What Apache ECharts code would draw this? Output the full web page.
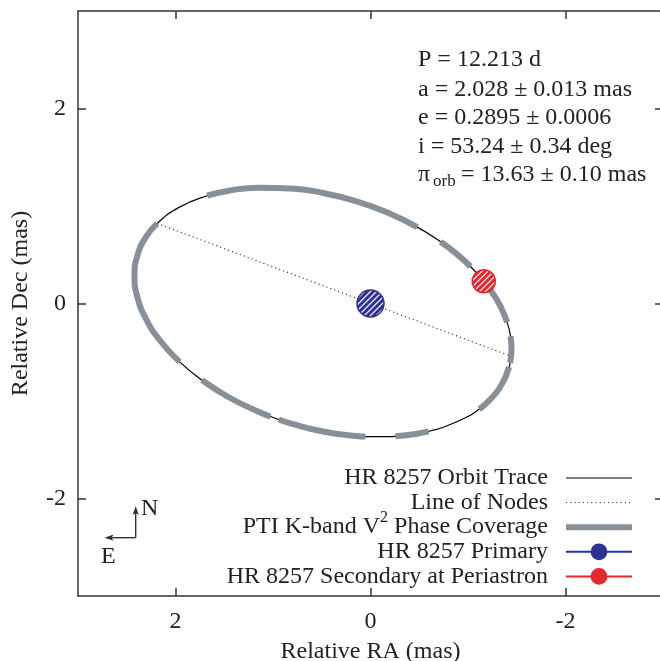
<!DOCTYPE html>
<html>
<head>
<meta charset="utf-8">
<script src="https://cdn.jsdelivr.net/npm/echarts@6/dist/echarts.min.js"></script>
<style>
html, body { margin:0; padding:0; background:#fff; }
#chart { width:660px; height:661px; }
</style>
</head>
<body>
<div id="chart"></div>
<script>
// orbit trace (Relative RA, Relative Dec in mas), once round
var orbitRA  = [-1.4461, -1.4317, -1.4223, -1.3295, -1.1871, -1.1156, -0.9938, -0.7555, -0.5967, -0.4795, -0.2558, -0.1740, 0.0523, 0.1515, 0.4872, 0.8229, 0.9418, 1.0266, 1.1484, 1.4539, 1.7273, 1.9573, 2.1615, 2.3039, 2.3911, 2.4205, 2.3911, 2.3039, 2.1878, 1.9682, 1.6748, 1.4539, 1.1484, 0.8229, 0.4872, 0.1515, -0.1740, -0.4795, -0.7189, -0.8799, -1.0258, -1.1871, -1.2308, -1.3295, -1.4017, -1.4359];
var orbitDec = [-0.4632, -0.6094, -0.6499, -0.8589, -1.0246, -1.0832, -1.1619, -1.2665, -1.3117, -1.3354, -1.3621, -1.3664, -1.3651, -1.3587, -1.3123, -1.2288, -1.1901, -1.1594, -1.1107, -0.9615, -0.7877, -0.5992, -0.3769, -0.1561, 0.0667, 0.2847, 0.4915, 0.6805, 0.8215, 0.9835, 1.1056, 1.1570, 1.1880, 1.1803, 1.1339, 1.0504, 0.9323, 0.7831, 0.6334, 0.5113, 0.3796, 0.1985, 0.1395, -0.0223, -0.1940, -0.3354];
// PTI phase coverage, as runs of points along the trace (wraps past the end)
var coverFrom = [30, 38, 42, 45, 2, 8, 12, 17, 21];
var coverTo   = [37, 40, 44, 47, 5, 10, 16, 20, 28];
var nodesRA  = [2.1878, -1.43];
var nodesDec = [0.8215, -0.537];
var primaryPos   = [0, 0];
var secondaryPos = [-1.162, 0.228];
var tickVals = [-2, 0, 2];
var fitLines = ['P = 12.213 d', 'a = 2.028 \u00b1 0.013 mas', 'e = 0.2895 \u00b1 0.0006', 'i = 53.24 \u00b1 0.34 deg'];
var parallaxText = '= 13.63 \u00b1 0.10 mas';

var FONT = 'Liberation Serif';
var INK = '#222';
var BLUE = '#2e3192', RED = '#e8262d', GREY = '#878f98';
var N_ORBIT = 'HR 8257 Orbit Trace', N_NODES = 'Line of Nodes',
    N_COVER = 'PTI K-band V2 Phase Coverage', N_PRIM = 'HR 8257 Primary',
    N_SEC = 'HR 8257 Secondary at Periastron';

// diagonal white hatching; symbols are drawn scaled from a unit circle,
// so the pattern is shrunk back by the symbol's half size
function hatch(base, symSize) {
  var t = 12, c = document.createElement('canvas');
  c.width = t; c.height = t;
  var g = c.getContext('2d');
  g.fillStyle = base; g.fillRect(0, 0, t, t);
  g.strokeStyle = 'rgba(255,255,255,0.95)'; g.lineWidth = 2.6;
  g.beginPath();
  g.moveTo(0, t); g.lineTo(t, 0);
  g.moveTo(-2, 2); g.lineTo(2, -2);
  g.moveTo(t - 2, t + 2); g.lineTo(t + 2, t - 2);
  g.stroke();
  var k = 6 / (t * symSize / 2);
  return { image: c, repeat: 'repeat', scaleX: k, scaleY: k };
}

var n = orbitRA.length;
var orbitPts = [[orbitRA[n - 1], orbitDec[n - 1]]];
for (var i = 0; i < n; i++) orbitPts.push([orbitRA[i], orbitDec[i]]);
orbitPts.push([orbitRA[0], orbitDec[0]], [orbitRA[1], orbitDec[1]]);

var series = [{
  name: N_ORBIT, type: 'line', data: orbitPts, smooth: true, symbol: 'none', z: 2, silent: true,
  lineStyle: { color: '#000', width: 1.2 }, itemStyle: { color: '#000' }
}, {
  name: N_NODES, type: 'line', symbol: 'none', z: 2, silent: true,
  data: nodesRA.map(function (x, k) { return [x, nodesDec[k]]; }),
  lineStyle: { color: '#333', width: 1.1, type: [1.2, 3] }, itemStyle: { color: '#333' }
}];
for (var k = 0; k < coverFrom.length; k++) {
  var pts = [];
  for (var j = coverFrom[k]; j <= coverTo[k]; j++) pts.push([orbitRA[j % n], orbitDec[j % n]]);
  series.push({
    name: N_COVER, type: 'line', data: pts, smooth: true, symbol: 'none', z: 3, silent: true,
    lineStyle: { color: GREY, width: 6, cap: 'butt' }, itemStyle: { color: GREY }
  });
}
series.push({
  name: N_PRIM, type: 'line', data: [primaryPos], symbol: 'circle', symbolSize: 27, z: 5, silent: true,
  lineStyle: { color: BLUE, width: 2 },
  itemStyle: { color: hatch(BLUE, 27), borderColor: BLUE, borderWidth: 1.5 }
}, {
  name: N_SEC, type: 'line', data: [secondaryPos], symbol: 'circle', symbolSize: 23, z: 5, silent: true,
  lineStyle: { color: RED, width: 2 },
  itemStyle: { color: hatch(RED, 23), borderColor: RED, borderWidth: 1.5 }
});

function axisBase(extra) {
  var a = {
    type: 'value', min: -3, max: 3,
    axisLine: { show: true, onZero: false, lineStyle: { color: '#333', width: 1.5 } },
    axisTick: { show: true, inside: true, length: 8, customValues: tickVals, lineStyle: { color: '#333', width: 1.5 } },
    axisLabel: { show: false },
    splitLine: { show: false }
  };
  for (var key in extra) a[key] = extra[key];
  return a;
}
var nameStyle = { fontFamily: FONT, fontSize: 24, color: INK };

// the superscript 2 of the legend: the legend keeps an invisible "2" for its width,
// the visible one is raised on top of it
var mctx = document.createElement('canvas').getContext('2d');
mctx.font = '24px "Liberation Serif"';
var tailW = mctx.measureText(' Phase Coverage').width;
mctx.font = '16px "Liberation Serif"';
var supX = 548 - tailW - mctx.measureText('2').width;

var noSymbol = { color: 'rgba(0,0,0,0)', borderWidth: 0 };
var notes = [];
var fitY = [60, 89.5, 118, 146.5];
for (var r = 0; r < fitLines.length; r++) {
  notes.push({ type: 'text', x: 418, y: fitY[r], silent: true,
    style: { text: fitLines[r], fontFamily: FONT, fontSize: 24, fill: INK, verticalAlign: 'middle' } });
}
notes.push(
  { type: 'text', x: 418, y: 175, silent: true, style: { text: '\u03c0', fontFamily: FONT, fontSize: 24, fill: INK, verticalAlign: 'middle' } },
  { type: 'text', x: 433, y: 182, silent: true, style: { text: 'orb', fontFamily: FONT, fontSize: 17, fill: INK, verticalAlign: 'middle' } },
  { type: 'text', x: 461, y: 175, silent: true, style: { text: parallaxText, fontFamily: FONT, fontSize: 24, fill: INK, verticalAlign: 'middle' } },
  { type: 'text', x: supX, y: 518, silent: true, z: 10, style: { text: '2', fontFamily: FONT, fontSize: 16, fill: INK, verticalAlign: 'middle' } },
  // compass
  { type: 'line', silent: true, shape: { x1: 135.7, y1: 537.7, x2: 135.7, y2: 510 }, style: { stroke: '#333', lineWidth: 1.4 } },
  { type: 'polygon', silent: true, shape: { points: [[135.7, 506], [132.6, 515], [135.7, 513], [138.8, 515]] }, style: { fill: '#333' } },
  { type: 'line', silent: true, shape: { x1: 135.7, y1: 537.7, x2: 108, y2: 537.7 }, style: { stroke: '#333', lineWidth: 1.4 } },
  { type: 'polygon', silent: true, shape: { points: [[104.5, 537.7], [113.5, 534.6], [111.5, 537.7], [113.5, 540.8]] }, style: { fill: '#333' } },
  { type: 'text', x: 141, y: 509, silent: true, style: { text: 'N', fontFamily: FONT, fontSize: 24, fill: INK, verticalAlign: 'middle' } },
  { type: 'text', x: 101, y: 556.5, silent: true, style: { text: 'E', fontFamily: FONT, fontSize: 24, fill: INK, verticalAlign: 'middle' } }
);

var option = {
  animation: false,
  backgroundColor: '#fff',
  textStyle: { fontFamily: FONT },
  grid: { left: 78, top: 11, width: 585, height: 585, containLabel: false, outerBoundsMode: 'none' },
  xAxis: [
    axisBase({ position: 'bottom', inverse: true, axisLabel: { margin: 14, customValues: tickVals, show: true, fontFamily: FONT, fontSize: 24, color: INK },
      name: 'Relative RA (mas)', nameLocation: 'middle', nameGap: 44, nameTextStyle: nameStyle }),
    axisBase({ position: 'top', inverse: true })
  ],
  yAxis: [
    axisBase({ position: 'left', axisLabel: { margin: 12, customValues: tickVals, show: true, fontFamily: FONT, fontSize: 24, color: INK },
      name: 'Relative Dec (mas)', nameLocation: 'middle', nameGap: 45, nameTextStyle: nameStyle }),
    axisBase({ position: 'right' })
  ],
  legend: {
    orient: 'vertical', align: 'right', right: 25, top: 466, padding: 0,
    itemWidth: 66, itemHeight: 21, itemGap: 0.6, selectedMode: false,
    formatter: function (name) {
      return name === N_COVER ? 'PTI K-band V{sup|2} Phase Coverage' : name;
    },
    textStyle: { fontFamily: FONT, fontSize: 24, color: INK, padding: [0, 13, 0, 0],
      rich: {
        sup: { fontFamily: FONT, fontSize: 16, lineHeight: 16, color: 'rgba(0,0,0,0)' }
      } },
    data: [
      { name: N_ORBIT, itemStyle: noSymbol, lineStyle: { color: '#000', width: 1.2 } },
      { name: N_NODES, itemStyle: noSymbol, lineStyle: { color: '#333', width: 1, type: [1.2, 3] } },
      { name: N_COVER, itemStyle: noSymbol, lineStyle: { color: GREY, width: 6 } },
      { name: N_PRIM, itemStyle: { color: BLUE, borderWidth: 0 }, lineStyle: { color: BLUE, width: 2 } },
      { name: N_SEC, itemStyle: { color: RED, borderWidth: 0 }, lineStyle: { color: RED, width: 2 } }
    ]
  },
  graphic: notes,
  series: series
};

echarts.init(document.getElementById('chart')).setOption(option);
</script>
</body>
</html>
